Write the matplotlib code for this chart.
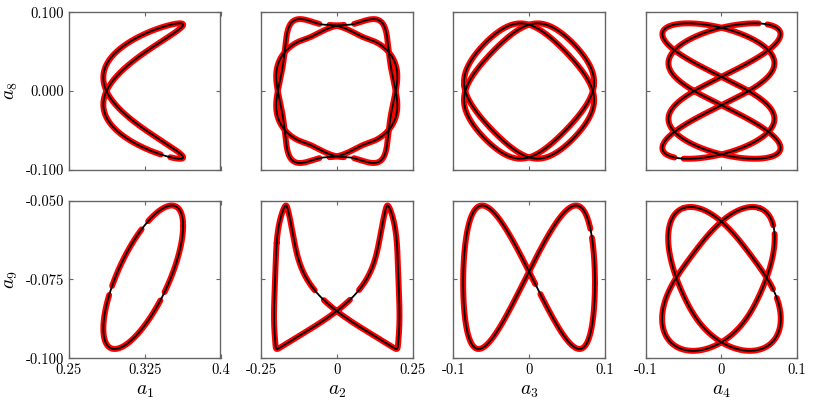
import numpy as np
import matplotlib
matplotlib.use('Agg')
import matplotlib.pyplot as plt

# Phase portraits of mode amplitudes: a1..a4 against a8 (top) and a9 (bottom).
# Every loop is stored as a short Fourier series: (mean, cos coefs, sin coefs),
# coefficient k multiplies cos(k u) / sin(k u), u running once round the loop.

top1_x = (0.3235, [0.0, -0.0364], [0.0, 0.0154])
top1_y = (0.0, [0.0], [0.086])

top2_x = (0.0, [0.0007, 0, -0.0026, 0, 0.0047, 0, -0.0059], [0.1862, 0, -0.0088, 0, -0.0016, 0, 0.0021])
top2_y = (0.0, [0.0943, 0, -0.0149, 0, 0.0017, 0, 0.0020], [-0.0124, 0, -0.0043, 0, 0.0023, 0, 0.0003])

top3_x = (0.0, [0.0812, 0, 0.0045], [0.0073, 0, 0])
top3_y = (0.0, [0.0073, 0, 0], [0.0812, 0, -0.0045])

top4_x = (-0.004, [0, 0.0399], [0, 0.0623])
top4_y = (0.0, [0, 0, 0], [0.082, 0, -0.004])

bot1_x = (0.3235, [0.0395], [0.0])
bot1_y = (-0.0743, [0.0163], [0.0159])

bot2_x = (0.0, [-0.2307, 0, 0.0488, 0, -0.0203, 0, 0.0063, 0, -0.0024],
          [-0.0232, 0, -0.0100, 0, 0.0052, 0, -0.0036, 0, 0.0023])
bot2_y = (-0.0743, [0, 0.0109], [0, -0.0200])

bot3_x = (0.0, [0.089, 0, -0.002], [0, 0, 0])
bot3_y = (-0.0743, [0, -0.0018], [0, -0.0227])

bot4_x = (0.0009, [-0.0483, 0.0005, -0.0028], [0.0530, -0.0031, 0.0052])
bot4_y = (-0.0753, [0.0208, 0.0006, 0.0016], [0.0055, -0.0003, 0.0])

# panels whose orbit also has an x-mirrored twin loop
mirrored = [(0, 1), (0, 2), (0, 3), (1, 3)]

# stretches where the red samples are missing: (x, y, radius in axes units)
gaps = {
    (0, 0): [(0.324, 0.038, 0.04), (0.324, -0.038, 0.04), (0.345, -0.085, 0.035)],
    (0, 1): [(-0.04, 0.087, 0.035), (0.04, 0.087, 0.035), (-0.04, -0.087, 0.035), (0.04, -0.087, 0.035)],
    (0, 2): [],
    (0, 3): [(-0.056, -0.085, 0.03), (0.055, 0.087, 0.03)],
    (1, 0): [(0.324, -0.0575, 0.035), (0.2906, -0.0784, 0.03), (0.3435, -0.0805, 0.03)],
    (1, 1): [(-0.048, -0.079, 0.05), (0.048, -0.079, 0.05)],
    (1, 2): [(0.012, -0.078, 0.035), (0.080, -0.0604, 0.03)],
    (1, 3): [(0.0666, -0.0593, 0.03), (0.071, -0.0794, 0.03)],
}

xlims = [(0.25, 0.4), (-0.25, 0.25), (-0.1, 0.1), (-0.1, 0.1)]
xticks = [[0.25, 0.325, 0.4], [-0.25, 0, 0.25], [-0.1, 0, 0.1], [-0.1, 0, 0.1]]
xticklabels = [['0.25', '0.325', '0.4'], ['-0.25', '0', '0.25'], ['-0.1', '0', '0.1'], ['-0.1', '0', '0.1']]
ylims = [(-0.1, 0.1), (-0.1, -0.05)]
yticks = [[-0.1, 0, 0.1], [-0.1, -0.075, -0.05]]
yticklabels = [['-0.100', '0.000', '0.100'], ['-0.100', '-0.075', '-0.050']]


plt.rcParams['font.family'] = 'serif'
plt.rcParams['font.serif'] = ['cmr10']
plt.rcParams['mathtext.fontset'] = 'cm'
plt.rcParams['axes.formatter.use_mathtext'] = True


def series(u, coefs):
    mean, cc, ss = coefs
    out = np.full_like(u, mean, dtype=float)
    for k, (c, s) in enumerate(zip(cc, ss), start=1):
        out += c*np.cos(k*u) + s*np.sin(k*u)
    return out


u = np.linspace(0, 2*np.pi, 1500)
loops = {
    (0, 0): (top1_x, top1_y), (0, 1): (top2_x, top2_y), (0, 2): (top3_x, top3_y), (0, 3): (top4_x, top4_y),
    (1, 0): (bot1_x, bot1_y), (1, 1): (bot2_x, bot2_y), (1, 2): (bot3_x, bot3_y), (1, 3): (bot4_x, bot4_y),
}

fig = plt.figure(figsize=(8.14, 4.07), dpi=100)
lefts = [69, 261, 453.3, 645.7]
tops = [12.3, 200.7]
W, H = 151.5, 157.5

for r in range(2):
    for c in range(4):
        ax = fig.add_axes([lefts[c]/814, 1 - (tops[r] + H)/407, W/814, H/407])
        cx, cy = loops[(r, c)]
        x, y = series(u, cx), series(u, cy)
        curves = [(x, y)]
        if (r, c) in mirrored:
            curves.append((-x, y))

        xs = xlims[c][1] - xlims[c][0]
        ys = ylims[r][1] - ylims[r][0]
        for px, py in curves:
            keep = np.ones(len(px), bool)
            for gx, gy, gr in gaps[(r, c)]:
                keep &= np.hypot((px - gx)/xs, (py - gy)/ys) > gr
            ax.plot(np.where(keep, px, np.nan), py, color='red', lw=4.3, solid_capstyle='round')
        for px, py in curves:
            ax.plot(px, py, color='black', lw=1.3)

        ax.set_xlim(xlims[c])
        ax.set_ylim(ylims[r])
        ax.set_xticks(xticks[c])
        ax.set_yticks(yticks[r])
        if r == 1:
            ax.set_xticklabels(xticklabels[c], fontsize=10.5)
            ax.set_xlabel(r'$a_%d$' % (c + 1), fontsize=14)
        else:
            ax.set_xticklabels([])
        if c == 0:
            ax.set_yticklabels(yticklabels[r], fontsize=10.5)
            ax.set_ylabel(r'$a_%d$' % (8 + r), fontsize=14)
        else:
            ax.set_yticklabels([])
        ax.tick_params(direction='in', length=3, width=0.8, color='0.4', top=True, right=True)
        for sp in ax.spines.values():
            sp.set_color('0.4')
            sp.set_linewidth(1.0)

fig.savefig('out.png', dpi=100)
